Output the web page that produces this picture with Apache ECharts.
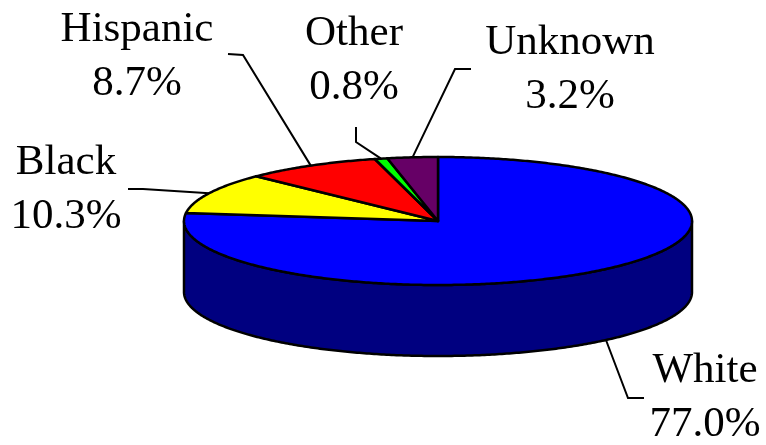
<!DOCTYPE html>
<html>
<head>
<meta charset="utf-8">
<script src="https://cdn.jsdelivr.net/npm/echarts@6/dist/echarts.min.js"></script>
<style>
  html, body { margin: 0; padding: 0; background: #fff; }
  #chart { width: 766px; height: 445px; }
</style>
</head>
<body>
<div id="chart"></div>
<script>
// Population share by race/ethnicity, drawn clockwise from 12 o'clock
const categories = ['White', 'Black', 'Hispanic', 'Other', 'Unknown'];
const shares = [77.0, 10.3, 8.7, 0.8, 3.2];
const topColors = ['#0000FF', '#FFFF00', '#FF0000', '#00FF00', '#660066'];
const sideColors = ['#000080', '#808000', '#800000', '#008000', '#330033'];

// Tilted-disc geometry (pixels)
const pie = { cx: 438, cy: 221, rx: 254, ry: 64, depth: 71 };

// Label anchors (centre x, first baseline y) and leader-line bends
const labelLayout = [
  { x: 705, y: 383, bend: [[628, 398], [644, 398]] },
  { x: 66,  y: 175, bend: [[143, 189], [128, 189]] },
  { x: 137, y: 42,  bend: [[243, 55], [228, 54]] },
  { x: 354, y: 46,  bend: [[356, 142], [356, 127]] },
  { x: 570, y: 55,  bend: [[455, 69], [471, 69]] }
];

const FONT_SIZE = 43;
const FONT = '"Liberation Serif", "Times New Roman", serif';
const total = shares.reduce((s, v) => s + v, 0);

function rimPoint(theta, drop) {
  return [pie.cx + pie.rx * Math.sin(theta), pie.cy - pie.ry * Math.cos(theta) + (drop || 0)];
}

function renderItem(params, api) {
  const i = params.dataIndex;
  const value = api.value(0);
  let before = 0;
  for (let k = 0; k < i; k++) before += shares[k];
  const t0 = before / total * Math.PI * 2;
  const t1 = (before + value) / total * Math.PI * 2;
  const children = [];

  // Visible outer wall: the part of the slice on the front half (pi/2 .. 3pi/2)
  const s0 = Math.max(t0, Math.PI / 2), s1 = Math.min(t1, Math.PI * 1.5);
  if (s1 > s0) {
    const pts = [];
    const n = Math.max(4, Math.ceil((s1 - s0) / 0.01));
    for (let k = 0; k <= n; k++) pts.push(rimPoint(s0 + (s1 - s0) * k / n, 0));
    for (let k = n; k >= 0; k--) pts.push(rimPoint(s0 + (s1 - s0) * k / n, pie.depth));
    children.push({
      type: 'polygon', z2: 1,
      shape: { points: pts },
      style: { fill: sideColors[i], stroke: '#000', lineWidth: 2.5, lineJoin: 'round' }
    });
  }

  // Top face wedge
  const top = [[pie.cx, pie.cy]];
  const m = Math.max(2, Math.ceil((t1 - t0) / 0.01));
  for (let k = 0; k <= m; k++) top.push(rimPoint(t0 + (t1 - t0) * k / m, 0));
  children.push({
    type: 'polygon', z2: 2,
    shape: { points: top },
    style: { fill: topColors[i], stroke: '#000', lineWidth: 2.5, lineJoin: 'round' }
  });

  // Leader line from the slice's mid-angle on the rim
  const mid = (t0 + t1) / 2;
  const front = mid > Math.PI / 2 && mid < Math.PI * 1.5;
  const start = rimPoint(mid, front ? pie.depth : 0);
  const lay = labelLayout[i];
  children.push({
    type: 'polyline', z2: 3,
    shape: { points: [start].concat(lay.bend) },
    style: { fill: null, stroke: '#000', lineWidth: 2 }
  });

  // Two-line label: name and share (bottom of em box sits ~0.22em under the baseline)
  const lines = [categories[i], value.toFixed(1) + '%'];
  lines.forEach((txt, li) => {
    children.push({
      type: 'text', z2: 4,
      style: {
        text: txt, x: lay.x, y: lay.y + li * 54 + Math.round(FONT_SIZE * 0.22),
        align: 'center', verticalAlign: 'bottom',
        font: FONT_SIZE + 'px ' + FONT, fill: '#000'
      }
    });
  });

  return { type: 'group', children };
}

const chart = echarts.init(document.getElementById('chart'), null, { renderer: 'canvas' });
chart.setOption({
  backgroundColor: '#fff',
  animation: false,
  series: [{
    type: 'custom',
    coordinateSystem: 'none',
    renderItem,
    data: shares.map((v, i) => ({ name: categories[i], value: [v] }))
  }]
});
</script>
</body>
</html>
